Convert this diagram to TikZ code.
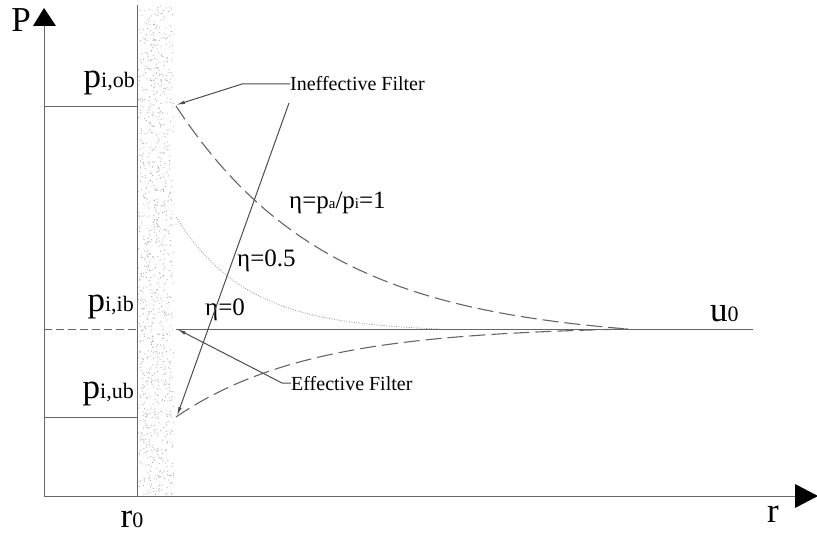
\documentclass[tikz,border=0pt]{standalone}
\usepackage{fontspec}
\setmainfont{Liberation Serif}
\usetikzlibrary{arrows.meta}
\newcommand{\bigtxt}{\fontsize{35}{38}\selectfont}
\newcommand{\subtxt}{\fontsize{22}{24}\selectfont}
\newcommand{\etatxt}{\fontsize{25}{28}\selectfont}
\newcommand{\etasub}{\fontsize{15}{17}\selectfont}
\newcommand{\fltxt}{\fontsize{20}{22}\selectfont}
\tikzset{
  axisline/.style={draw=black!60, line width=1pt},
  thinline/.style={draw=black!60, line width=1pt},
  longdash/.style={draw=black!60, line width=1.1pt, dash pattern=on 16pt off 6pt},
  shortdash/.style={draw=black!60, line width=1pt, dash pattern=on 8pt off 4pt},
  dotline/.style={draw=black!40, line width=0.8pt, dash pattern=on 1pt off 1.5pt},
  leader/.style={draw=black!70, line width=1pt, -{Latex[length=9pt,width=3.5pt]}},
  lbl/.style={inner sep=0pt, text=black},
}
\begin{document}
\begin{tikzpicture}[x=1pt,y=-1pt]
\useasboundingbox (0,0) rectangle (817,535);
% stippled filter band
\pgfmathsetseed{7}
\foreach \i in {1,...,1000} {
  \pgfmathsetmacro\xx{138.5+35*rnd}
  \pgfmathsetmacro\yy{6+489*rnd}
  \fill[black!32] (\xx,\yy) circle (0.6);
}
% coordinates
\coordinate (O) at (44,496);
\coordinate (Ptop) at (44,26);
\coordinate (Rend) at (795,496);
\coordinate (wallTop) at (137,5);
\coordinate (wallBot) at (137,496);
\coordinate (ob0) at (44,106);  \coordinate (ob1) at (137,106);
\coordinate (ib0) at (44,329);  \coordinate (ib1) at (137,329);
\coordinate (ub0) at (44,417);  \coordinate (ub1) at (137,417);
\coordinate (uStart) at (176,329); \coordinate (uEnd) at (753,329);
\coordinate (obF) at (176,105);
\coordinate (ubF) at (177,416);
\coordinate (ibF) at (177,329);
% axes
\draw[axisline] (O) -- (Ptop);
\draw[axisline] (O) -- (Rend);
\fill[black] (33,26) -- (56,26) -- (44,8) -- cycle;
\fill[black] (795,484) -- (795,508) -- (818,496) -- cycle;
% wall
\draw[thinline] (wallTop) -- (wallBot);
% pressure levels inside
\draw[thinline] (ob0) -- (ob1);
\draw[shortdash] (ib0) -- (ib1);
\draw[thinline] (ub0) -- (ub1);
% u0 line
\draw[thinline] (uStart) -- (uEnd);
% curves
\draw[longdash] plot[domain=176:628, samples=90, smooth] (\x, {329-223*(exp(-0.0065*(\x-176))-0.0530)/0.9470});
\draw[longdash] plot[domain=176:628, samples=90, smooth] (\x, {329+88*(exp(-0.0075*(\x-176))-0.0337)/0.9663});
\draw[dotline] plot[domain=176:440, samples=70, smooth] (\x, {329-112*(exp(-0.014*(\x-176))-0.0248)/0.9752});
% labels
\node[lbl, anchor=base] (Plbl) at (21,32) {\bigtxt P};
\node[lbl, anchor=base east] (pob) at (135,88) {\bigtxt p\subtxt i,ob};
\node[lbl, anchor=base east] (pib) at (134,311) {\bigtxt p\subtxt i,ib};
\node[lbl, anchor=base east] (pub) at (134,398) {\bigtxt p\subtxt i,ub};
\node[lbl, anchor=base] (r0) at (132,527) {\bigtxt r\subtxt 0};
\node[lbl, anchor=base] (rlbl) at (773,522) {\bigtxt r};
\node[lbl, anchor=base west] (u0) at (710,321) {\bigtxt u\subtxt 0};
\node[lbl, anchor=base west] (eta1) at (289,208) {\etatxt η=p\etasub a\etatxt/p\etasub i\etatxt=1};
\node[lbl, anchor=base west] (eta05) at (237,266) {\etatxt η=0.5};
\node[lbl, anchor=base west] (eta0) at (205,315) {\etatxt η=0};
\node[lbl, anchor=base west] (inef) at (290,91) {\fltxt Ineffective Filter};
\node[lbl, anchor=base west] (eff) at (291,390) {\fltxt Effective Filter};
% leaders
\coordinate (inefK) at (242,84);
\coordinate (effK) at (282,383);
\draw[leader] (inef.west |- inefK) -- (inefK) -- (obF);
\draw[leader] (eff.west |- effK) -- (effK) -- (ibF);
\coordinate (bigTop) at (289,103);
\draw[leader] (bigTop) -- (ubF);
\end{tikzpicture}
\end{document}
